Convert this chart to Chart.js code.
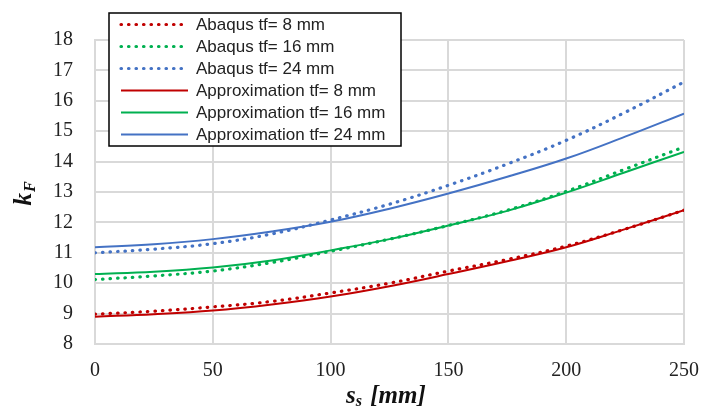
<!DOCTYPE html>
<html>
<head>
<meta charset="utf-8">
<script src="https://cdn.jsdelivr.net/npm/chart.js@4"></script>
<style>
  html, body { margin: 0; padding: 0; background: #fff; }
  #wrap { width: 703px; height: 412px; }
</style>
</head>
<body>
<div id="wrap"><canvas id="myChart" width="703" height="412"></canvas></div>
<script>
// s_s values (mm) and kF
const sValues = [0, 25, 50, 75, 100, 125, 150, 175, 200, 225, 250];

const abaqus8  = [8.98, 9.08, 9.22, 9.40, 9.68, 10.00, 10.40, 10.78, 11.22, 11.78, 12.40];
const abaqus16 = [10.12, 10.24, 10.40, 10.68, 11.05, 11.45, 11.90, 12.40, 13.02, 13.75, 14.48];
const abaqus24 = [11.00, 11.12, 11.30, 11.62, 12.08, 12.60, 13.22, 13.92, 14.70, 15.62, 16.62];

const approx8  = [8.90, 8.98, 9.10, 9.30, 9.56, 9.90, 10.30, 10.72, 11.18, 11.78, 12.40];
const approx16 = [10.30, 10.38, 10.52, 10.75, 11.08, 11.45, 11.90, 12.38, 12.98, 13.65, 14.32];
const approx24 = [11.18, 11.28, 11.45, 11.70, 12.02, 12.45, 12.95, 13.50, 14.10, 14.82, 15.58];

const seriesNames = [
  'Abaqus tf= 8 mm', 'Abaqus tf= 16 mm', 'Abaqus tf= 24 mm',
  'Approximation tf= 8 mm', 'Approximation tf= 16 mm', 'Approximation tf= 24 mm'
];
const seriesData = [abaqus8, abaqus16, abaqus24, approx8, approx16, approx24];
const colors = ['#C00000', '#00B050', '#4472C4'];

const dotted = [0.5, 7];

function toPoints(arr) {
  return arr.map((v, i) => ({ x: sValues[i], y: v }));
}

const datasets = seriesData.map((arr, i) => {
  const isDotted = i < 3;
  return {
    label: seriesNames[i],
    data: toPoints(arr),
    borderColor: colors[i % 3],
    borderWidth: isDotted ? 3.2 : 2,
    borderDash: isDotted ? dotted : [],
    borderCapStyle: isDotted ? 'round' : 'butt',
    pointRadius: 0,
    tension: 0.4,
    fill: false
  };
});

// legend box drawn over the plot, like the original
const boxLegend = {
  id: 'boxLegend',
  afterDraw(chart) {
    const ctx = chart.ctx;
    const L = 109, T = 13, R = 401, B = 146;
    ctx.save();
    ctx.fillStyle = '#fff';
    ctx.fillRect(L, T, R - L, B - T);
    ctx.strokeStyle = '#000';
    ctx.lineWidth = 1.5;
    ctx.strokeRect(L, T, R - L, B - T);
    ctx.font = '17px "Liberation Sans", Arial, sans-serif';
    ctx.textBaseline = 'middle';
    chart.data.datasets.forEach((ds, i) => {
      const y = 24.5 + i * 22;
      ctx.beginPath();
      ctx.strokeStyle = ds.borderColor;
      ctx.lineWidth = ds.borderWidth;
      ctx.lineCap = ds.borderCapStyle;
      ctx.setLineDash(ds.borderDash);
      ctx.moveTo(121, y);
      ctx.lineTo(188, y);
      ctx.stroke();
      ctx.setLineDash([]);
      ctx.fillStyle = '#222';
      ctx.fillText(ds.label, 196, y + 1);
    });
    ctx.restore();
  }
};

// axis titles with subscripts
const axisTitles = {
  id: 'axisTitles',
  afterDraw(chart) {
    const ctx = chart.ctx;
    const serif = '"Liberation Serif", "Times New Roman", serif';
    const big = 'italic bold 25px ' + serif;
    const small = 'italic bold 16px ' + serif;
    ctx.save();
    ctx.fillStyle = '#111';
    ctx.textBaseline = 'alphabetic';

    // x title: s_s [mm]
    ctx.font = big; const w1 = ctx.measureText('s').width;
    ctx.font = small; const w2 = ctx.measureText('s').width;
    let x = 346;
    const yb = 403;
    ctx.font = big; ctx.fillText('s', x, yb); x += w1;
    ctx.font = small; ctx.fillText('s', x, yb + 3); x += w2 + 2;
    ctx.font = big; ctx.fillText(' [mm]', x, yb);

    // y title: k_F
    ctx.translate(31, 194);
    ctx.rotate(-Math.PI / 2);
    ctx.font = big; const k1 = ctx.measureText('k').width;
    ctx.font = small; const k2 = ctx.measureText('F').width;
    let t = -(k1 + k2) / 2;
    ctx.font = big; ctx.fillText('k', t, 0); t += k1;
    ctx.font = small; ctx.fillText('F', t + 1, 4);
    ctx.restore();
  }
};

const tickFont = { family: '"Liberation Serif", "Times New Roman", serif', size: 20 };

new Chart(document.getElementById('myChart'), {
  type: 'line',
  data: { datasets: datasets },
  options: {
    responsive: false,
    animation: false,
    layout: { padding: { top: 40, right: 19, left: 0, bottom: 0 } },
    plugins: {
      legend: { display: false },
      tooltip: { enabled: false }
    },
    scales: {
      x: {
        type: 'linear',
        min: 0,
        max: 250,
        ticks: { stepSize: 50, color: '#222', font: tickFont, padding: 15 },
        grid: { color: '#d9d9d9', lineWidth: 2, drawTicks: false },
        border: { color: '#d9d9d9', width: 2 },
        afterFit: s => { s.height = 68; s.paddingLeft = 0; s.paddingRight = 0; }
      },
      y: {
        min: 8,
        max: 18,
        ticks: { stepSize: 1, color: '#222', font: tickFont, padding: 22 },
        grid: { color: '#d9d9d9', lineWidth: 2, drawTicks: false },
        border: { color: '#d9d9d9', width: 2 },
        afterFit: s => { s.width = 95; s.paddingTop = 0; s.paddingBottom = 0; }
      }
    }
  },
  plugins: [boxLegend, axisTitles]
});
</script>
</body>
</html>
